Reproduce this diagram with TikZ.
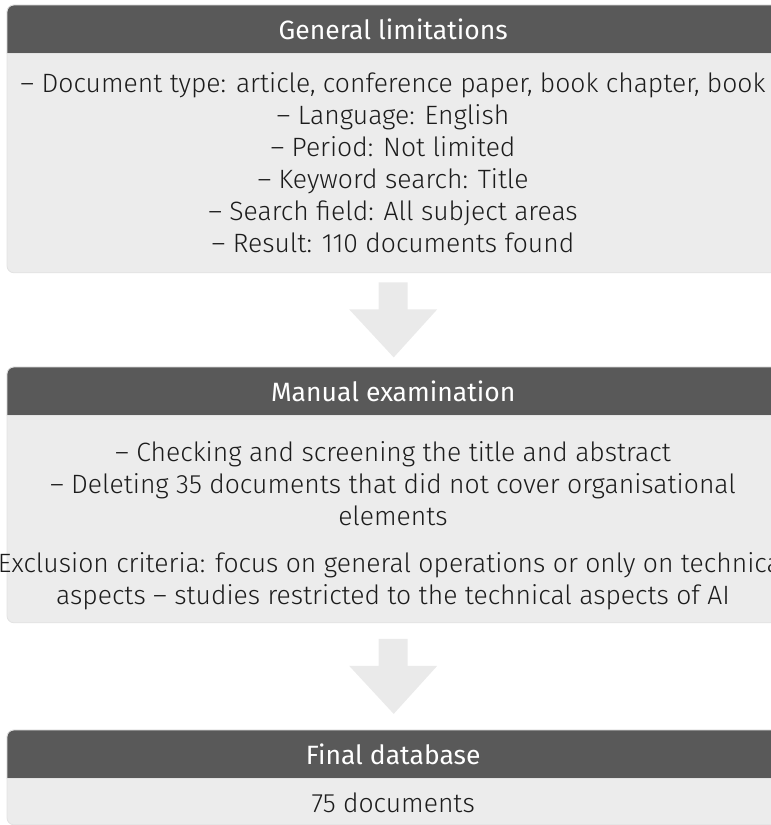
\documentclass[tikz,border=0pt]{standalone}
\usepackage{fontspec}
\setmainfont{Fira Sans}[UprightFont=* Light, BoldFont=*]
\usetikzlibrary{calc,backgrounds}
\definecolor{hdrc}{RGB}{89,89,89}
\definecolor{bodyc}{RGB}{236,236,236}
\definecolor{edgec}{RGB}{226,226,226}
\definecolor{arrc}{RGB}{234,234,234}
\definecolor{txtc}{RGB}{28,28,28}
\tikzset{
  hdr/.style={anchor=north west, minimum width=772pt, minimum height=48pt, inner sep=0pt,
    text=white, font=\fontsize{26.5pt}{30pt}\selectfont\bfseries},
  bodybox/.style={anchor=north west, minimum width=772pt, inner sep=0pt},
  bodytxt/.style={align=center, text=txtc, inner sep=0pt, font=\fontsize{26.5pt}{32pt}\selectfont},
  hdrfill/.style={fill=hdrc, draw=edgec, line width=0.8pt},
  bodyfill/.style={fill=bodyc, draw=edgec, line width=0.8pt},
  bigarrow/.style={fill=arrc}
}
\begin{document}
\begin{tikzpicture}[x=1pt,y=1pt]
\useasboundingbox (0,0) rectangle (771,-825);
\clip (0,0) rectangle (771,-825);
% box 1
\node[hdr] (h1) at (7,-5) {General limitations};
\node[bodybox, minimum height=219pt] (b1) at (h1.south west) {};
\node[bodytxt] (t1) at (393,-163) {– Document type: article, conference paper, book chapter, book\\
– Language: English\\
– Period: Not limited\\
– Keyword search: Title\\
– Search field: All subject areas\\
– Result: 110 documents found};
% box 2
\node[hdr] (h2) at (7,-367) {Manual examination};
\node[bodybox, minimum height=207pt] (b2) at (h2.south west) {};
\node[bodytxt] (t2) at (393,-526) {– Checking and screening the title and abstract\\
– Deleting 35 documents that did not cover organisational\\
elements\\[15pt]
Exclusion criteria: focus on general operations or only on technical\\
aspects – studies restricted to the technical aspects of AI};
% box 3
\node[hdr] (h3) at (7,-730) {Final database};
\node[bodybox, minimum height=46pt] (b3) at (h3.south west) {};
\node[bodytxt] (t3) at ($(b3.center)+(0,-1)$) {75 documents};
% arrows
\coordinate (m1) at ($(b1.south)!0.5!(h2.north)$);
\coordinate (m2) at ($(b2.south)!0.5!(h3.north)$);
\begin{scope}[on background layer]
  \foreach \h/\b in {h1/b1,h2/b2,h3/b3}{
    \path[bodyfill, rounded corners=7pt] (\h.north west) rectangle (\b.south east);
    \path[hdrfill] (\h.south west) [rounded corners=7pt] -- (\h.north west) -- (\h.north east) [sharp corners] -- (\h.south east) -- cycle;
  }
  \foreach \m in {m1,m2}{
    \fill[bigarrow] ($(\m)+(-14.5,37.5)$) -- ++(29,0) -- ++(0,-27) -- ++(29.5,0)
      -- ($(\m)+(0.5,-37.5)$) -- ($(\m)+(-44,10.5)$) -- ++(29.5,0) -- cycle;
  }
\end{scope}
\end{tikzpicture}
\end{document}
